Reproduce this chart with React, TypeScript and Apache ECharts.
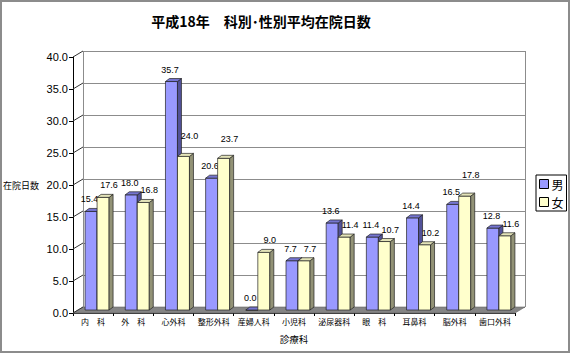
import React, { useEffect, useRef } from "react";
import * as echarts from "echarts";

const categories = ["内　科", "外　科", "心外科", "整形外科", "産婦人科", "小児科", "泌尿器科", "眼　科", "耳鼻科", "脳外科", "歯口外科"];
const male = [15.4, 18.0, 35.7, 20.6, 0.0, 7.7, 13.6, 11.4, 14.4, 16.5, 12.8];
const female = [17.6, 16.8, 24.0, 23.7, 9.0, 7.7, 11.4, 10.7, 10.2, 17.8, 11.6];
const yTicks = [0, 5, 10, 15, 20, 25, 30, 35, 40];

// style constants
const DEPTH_X = 10;
const DEPTH_Y = -6;
const BAR_SHIFT_X = 4;
const BAR_SHIFT_Y = -3;
const BAR_W = 12;
const SIDE_X = 4;
const SIDE_Y = -3;
const NUM_FONT = "'Liberation Sans', Arial, sans-serif";
const JP_FONT = "'Noto Sans CJK JP', 'Liberation Sans', sans-serif";
const FEMALE_LABEL_LIFT: Record<string, number> = { "心外科": 8, "整形外科": 7, "脳外科": 9 };

const palettes = [
  { front: "#9999FF", side: "#525299", top: "#7575D1", labelDx: -1.5 },
  { front: "#FFFFCC", side: "#929276", top: "#E3E3B8", labelDx: 6 },
];

function makeBarRenderer(sIdx: number) {
  return (params: any, api: any) => {
    const i = api.value(0);
    const v = api.value(1);
    const top = api.coord([i, v]);
    const base = api.coord([i, 0]);
    const p = palettes[sIdx];
    const x0 = top[0] - BAR_W + sIdx * BAR_W + BAR_SHIFT_X;
    const x1 = x0 + BAR_W;
    const yt = top[1] + BAR_SHIFT_Y;
    const yb = base[1] + BAR_SHIFT_Y;
    const stroke = { stroke: "#222", lineWidth: 0.7 };
    const lift = sIdx === 1 ? FEMALE_LABEL_LIFT[categories[i]] || 0 : 0;
    return {
      type: "group",
      children: [
        {
          type: "rect",
          shape: { x: x0, y: yt, width: BAR_W, height: Math.max(yb - yt, 0) },
          style: { fill: p.front, ...stroke },
        },
        {
          type: "polygon",
          shape: { points: [[x1, yt], [x1 + SIDE_X, yt + SIDE_Y], [x1 + SIDE_X, yb + SIDE_Y], [x1, yb]] },
          style: { fill: p.side, ...stroke },
        },
        {
          type: "polygon",
          shape: { points: [[x0, yt], [x1, yt], [x1 + SIDE_X, yt + SIDE_Y], [x0 + SIDE_X, yt + SIDE_Y]] },
          style: { fill: p.top, ...stroke },
        },
        {
          type: "text",
          style: {
            text: v.toFixed(1),
            x: x0 + BAR_W / 2 + p.labelDx,
            y: yt - 12 - lift,
            align: "center",
            verticalAlign: "middle",
            textAlign: "center",
            textVerticalAlign: "middle",
            fontSize: 9,
            fontFamily: NUM_FONT,
            fill: "#000",
          },
        },
      ],
    };
  };
}

export default function App() {
  const ref = useRef<HTMLDivElement>(null);
  useEffect(() => {
    document.body.style.margin = "0";
    const chart = echarts.init(ref.current!, null, { renderer: "svg" });
    const option: any = {
      animation: false,
      backgroundColor: "#fff",
      title: {
        text: "平成18年　科別･性別平均在院日数",
        left: 261,
        top: 14,
        textAlign: "center",
        padding: 0,
        textStyle: { fontSize: 14, fontWeight: "bold", color: "#000", fontFamily: JP_FONT },
      },
      legend: {
        data: ["男", "女"],
        orient: "vertical",
        left: 536,
        top: 175,
        itemWidth: 9,
        itemHeight: 9,
        itemGap: 6,
        padding: [3, 3, 3, 3],
        borderColor: "#000",
        borderWidth: 1,
        icon: "rect",
        textStyle: { fontSize: 12, color: "#000", fontFamily: JP_FONT, padding: [0, 0, 0, -2] },
        itemStyle: { borderColor: "#000", borderWidth: 1 },
      },
      graphic: [
        {
          type: "rect",
          silent: true,
          z: 100,
          shape: { x: 1, y: 1, width: 568, height: 351 },
          style: { fill: "none", stroke: "#8c8c8c", lineWidth: 2 },
        },
      ],
      grid: [
        { left: 83, right: 45, top: 51, bottom: 46 },
        { left: 73, right: 55, top: 57, bottom: 40 },
      ],
      xAxis: [
        {
          gridIndex: 0,
          type: "value",
          min: 0,
          max: 1,
          interval: 1,
          axisLine: { show: false },
          axisTick: { show: false },
          axisLabel: { show: false },
          splitLine: { show: true, lineStyle: { color: "#8c8c8c", width: 1 } },
        },
        {
          gridIndex: 1,
          type: "category",
          data: categories,
          axisLine: { show: true, lineStyle: { color: "#333" } },
          axisTick: { show: true, length: 3, lineStyle: { color: "#000" } },
          axisLabel: { fontSize: 8, margin: 4, color: "#000", interval: 0, fontFamily: JP_FONT },
          splitLine: { show: false },
          name: "診療科",
          nameLocation: "middle",
          nameGap: 21,
          nameTextStyle: { fontSize: 9.5, color: "#000", fontFamily: JP_FONT },
        },
      ],
      yAxis: [
        {
          gridIndex: 0,
          type: "value",
          min: 0,
          max: 40,
          interval: 5,
          axisLine: { show: false },
          axisTick: { show: false },
          axisLabel: { show: false },
          splitLine: { show: true, lineStyle: { color: "#8c8c8c", width: 1 } },
        },
        {
          gridIndex: 1,
          type: "value",
          min: 0,
          max: 40,
          interval: 5,
          axisLine: { show: true, lineStyle: { color: "#000" } },
          axisTick: { show: true, length: 4, lineStyle: { color: "#000" } },
          axisLabel: {
            formatter: (v: number) => v.toFixed(1),
            fontSize: 11,
            color: "#000",
            margin: 5,
            fontFamily: NUM_FONT,
          },
          splitLine: { show: false },
          name: "在院日数",
          nameLocation: "middle",
          nameRotate: 0,
          nameGap: 34,
          nameTextStyle: { fontSize: 9, color: "#000", align: "right", fontFamily: JP_FONT },
        },
      ],
      series: [
        {
          type: "custom",
          name: "floor",
          xAxisIndex: 1,
          yAxisIndex: 1,
          silent: true,
          clip: false,
          z: 1,
          data: [[0, 0]],
          renderItem: (params: any, api: any) => {
            const cs = params.coordSys;
            const by = api.coord([0, 0])[1];
            return {
              type: "polygon",
              shape: {
                points: [
                  [cs.x, by],
                  [cs.x + cs.width, by],
                  [cs.x + cs.width + DEPTH_X, by + DEPTH_Y],
                  [cs.x + DEPTH_X, by + DEPTH_Y],
                ],
              },
              style: { fill: "#858585", stroke: "#666", lineWidth: 0.6 },
            };
          },
        },
        {
          type: "custom",
          name: "wallTicks",
          xAxisIndex: 1,
          yAxisIndex: 1,
          silent: true,
          clip: false,
          z: 6,
          data: yTicks.map((v) => [0, v]),
          renderItem: (params: any, api: any) => {
            const cs = params.coordSys;
            const y = api.coord([0, api.value(1)])[1];
            return {
              type: "line",
              shape: { x1: cs.x, y1: y, x2: cs.x + DEPTH_X, y2: y + DEPTH_Y },
              style: { stroke: "#333", lineWidth: 1 },
            };
          },
        },
        {
          type: "custom",
          name: "男",
          xAxisIndex: 1,
          yAxisIndex: 1,
          clip: false,
          z: 3,
          itemStyle: { color: palettes[0].front, borderColor: "#000", borderWidth: 1 },
          data: male.map((v, i) => [i, v]),
          renderItem: makeBarRenderer(0),
        },
        {
          type: "custom",
          name: "女",
          xAxisIndex: 1,
          yAxisIndex: 1,
          clip: false,
          z: 4,
          itemStyle: { color: palettes[1].front, borderColor: "#000", borderWidth: 1 },
          data: female.map((v, i) => [i, v]),
          renderItem: makeBarRenderer(1),
        },
      ],
    };
    chart.setOption(option);
    return () => chart.dispose();
  }, []);
  return <div ref={ref} style={{ width: 570, height: 353 }} />;
}
